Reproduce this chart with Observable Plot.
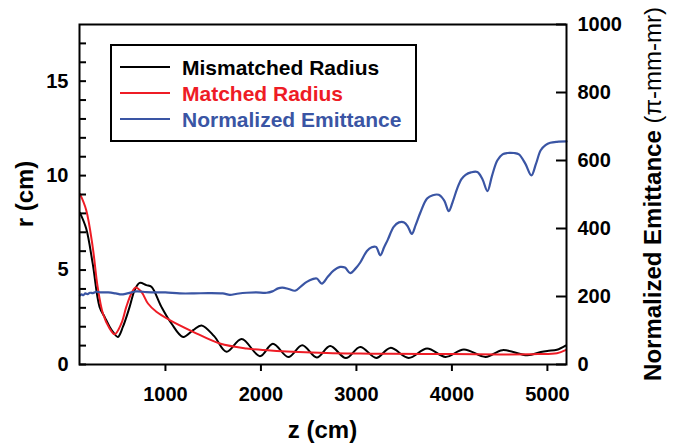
<!DOCTYPE html>
<html>
<head>
<meta charset="utf-8">
<script src="https://cdn.jsdelivr.net/npm/d3@7"></script>
<script src="https://cdn.jsdelivr.net/npm/@observablehq/plot@0.6"></script>
<style>
  body { margin: 0; background: #fff; }
  #chart { position: relative; width: 693px; height: 445px; }
</style>
</head>
<body>
<div id="chart"></div>
<script>
// ---- Data ----
const seriesNames = ["Mismatched Radius", "Matched Radius", "Normalized Emittance"];
const seriesColors = ["#000000", "#ee1c25", "#3a55a4"];

const xTicks = [1000, 2000, 3000, 4000, 5000];
const rTicks = [0, 5, 10, 15];
const rMinorTicks = [1, 2, 3, 4, 6, 7, 8, 9, 11, 12, 13, 14, 16, 17];
const eTicks = [0, 200, 400, 600, 800, 1000];

const xTitle = "z (cm)";
const rTitle = "r (cm)";
const eTitleMain = "Normalized Emittance ";
const eTitleUnit = "(\u03c0-mm-mr)";

// Mismatched radius (cm) vs z (cm)
const mismatchedZ = [105, 170, 238, 310, 363, 415, 450, 502, 555, 625, 678, 730, 800, 853, 958, 1063, 1185, 1290, 1378, 1510, 1640, 1798, 1990, 2125, 2287, 2433, 2585, 2725, 2890, 3040, 3208, 3355, 3547, 3740, 3933, 4125, 4353, 4528, 4790, 4930, 5000, 5100, 5190];
const mismatchedR = [8.03, 7.2, 5.35, 3.05, 2.52, 2.0, 1.73, 1.46, 2.0, 3.05, 3.94, 4.32, 4.2, 4.11, 3.05, 2.17, 1.46, 1.82, 2.07, 1.5, 0.67, 1.35, 0.44, 1.1, 0.40, 1.02, 0.37, 0.98, 0.34, 0.93, 0.35, 0.88, 0.35, 0.85, 0.40, 0.80, 0.40, 0.76, 0.49, 0.66, 0.72, 0.78, 1.0];

// Matched radius (cm) vs z (cm)
const matchedZ = [105, 170, 238, 290, 345, 415, 468, 538, 590, 643, 688, 748, 817, 905, 1045, 1290, 1570, 1850, 2165, 2690, 3040, 3355, 4000, 4500, 4900, 5100, 5190];
const matchedR = [9.03, 8.18, 6.23, 4.11, 2.7, 1.91, 1.6, 2.17, 3.05, 3.76, 4.08, 3.85, 3.23, 2.79, 2.35, 1.73, 1.11, 0.85, 0.72, 0.61, 0.58, 0.57, 0.55, 0.53, 0.55, 0.6, 0.76];

// Normalized emittance (pi-mm-mr) vs z (cm)
const emittanceZ = [105, 120, 140, 160, 185, 210, 240, 275, 320, 400, 480, 538, 600, 696, 800, 900, 1000, 1150, 1300, 1450, 1600, 1675, 1750, 1850, 1950, 2060, 2120, 2180, 2225, 2290, 2358, 2420, 2480, 2540, 2585, 2638, 2700, 2760, 2830, 2880, 2935, 2990, 3040, 3110, 3160, 3205, 3250, 3290, 3330, 3390, 3445, 3500, 3540, 3580, 3620, 3670, 3740, 3800, 3862, 3920, 3967, 4010, 4056, 4100, 4143, 4200, 4266, 4320, 4372, 4420, 4475, 4530, 4580, 4650, 4702, 4770, 4832, 4880, 4930, 4980, 5030, 5100, 5200];
const emittanceE = [203, 206, 204, 209, 207, 211, 210, 214, 212, 212, 209, 206, 209, 215, 213, 212, 212, 209, 209, 210, 209, 205, 208, 211, 212, 211, 215, 224, 226, 222, 217, 230, 243, 251, 253, 238, 258, 276, 287, 285, 269, 282, 300, 334, 345, 346, 321, 345, 368, 405, 418, 418, 405, 384, 410, 447, 488, 498, 499, 482, 451, 480, 518, 545, 558, 565, 566, 545, 510, 555, 600, 618, 622, 622, 618, 590, 556, 590, 630, 645, 652, 655, 656];

// ---- Build tables ----
const rMax = 18, eMax = 1000, k = rMax / eMax;
const mismatched = mismatchedZ.map((z, i) => ({z, v: mismatchedR[i]}));
const matched = matchedZ.map((z, i) => ({z, v: matchedR[i]}));
const emittance = emittanceZ.map((z, i) => ({z, v: emittanceE[i]}));

const W = 693, H = 445;
const mL = 79, mR = 127, mT = 24, mB = 81;
const plotW = W - mL - mR, plotH = H - mT - mB;

const chart = Plot.plot({
  width: W,
  height: H,
  marginLeft: mL,
  marginRight: mR,
  marginTop: mT,
  marginBottom: mB,
  style: {fontFamily: "'Liberation Sans', Arial, sans-serif", fontSize: "20px", fontWeight: "bold", color: "black", background: "white"},
  x: {domain: [100, 5200], label: null},
  y: {domain: [0, rMax], label: null},
  marks: [
    Plot.line(mismatched, {x: "z", y: "v", stroke: seriesColors[0], strokeWidth: 2, curve: "catmull-rom"}),
    Plot.line(matched, {x: "z", y: "v", stroke: seriesColors[1], strokeWidth: 2, curve: "catmull-rom"}),
    Plot.line(emittance, {x: "z", y: d => d.v * k, stroke: seriesColors[2], strokeWidth: 2.2, curve: "catmull-rom"}),
    // tick marks: x outward, left inward, right inward
    Plot.tickX(xTicks, {x: d => d, insetTop: plotH, insetBottom: -7, stroke: "black", strokeWidth: 2}),
    Plot.tickY(rTicks.concat(rMinorTicks), {y: d => d, insetRight: plotW - 7, stroke: "black", strokeWidth: 2}),
    Plot.tickY(eTicks, {y: d => d * k, insetLeft: plotW - 10, stroke: "black", strokeWidth: 2}),
    // tick labels
    Plot.axisX(xTicks, {anchor: "bottom", tickSize: 0, tickPadding: 22, tickFormat: d => String(d), label: null, fontSize: 20, fontWeight: "bold"}),
    Plot.axisY(rTicks, {anchor: "left", tickSize: 0, tickPadding: 11, tickFormat: d => String(d), label: null, fontSize: 20, fontWeight: "bold"}),
    Plot.axisY(eTicks, {anchor: "right", y: d => d * k, tickSize: 0, tickPadding: 11, tickFormat: d => String(d), label: null, fontSize: 20, fontWeight: "bold"}),
    Plot.frame({stroke: "black", strokeWidth: 2})
  ]
});

document.getElementById("chart").appendChild(chart);

// ---- Titles and legend ----
const svg = d3.select(chart);
const font = "'Liberation Sans', Arial, sans-serif";

svg.append("text")
  .attr("x", (mL + (W - mR)) / 2).attr("y", 438)
  .attr("text-anchor", "middle")
  .style("font-family", font).style("font-size", "24px").style("font-weight", "bold")
  .attr("fill", "black")
  .text(xTitle);

svg.append("text")
  .attr("transform", `translate(33,${(mT + (H - mB)) / 2}) rotate(-90)`)
  .attr("text-anchor", "middle")
  .style("font-family", font).style("font-size", "24px").style("font-weight", "bold")
  .attr("fill", "black")
  .text(rTitle);

const et = svg.append("text")
  .attr("transform", `translate(661,${(mT + (H - mB)) / 2}) rotate(-90)`)
  .attr("text-anchor", "middle")
  .style("font-family", font).style("font-size", "24px")
  .attr("fill", "black");
et.append("tspan").style("font-weight", "bold").text(eTitleMain);
et.append("tspan").style("font-weight", "normal").text(eTitleUnit);

// Legend box
const lg = svg.append("g");
lg.append("rect")
  .attr("x", 111).attr("y", 45).attr("width", 305).attr("height", 96)
  .attr("fill", "white").attr("stroke", "black").attr("stroke-width", 2);
seriesNames.forEach((name, i) => {
  const yy = 67 + i * 26;
  lg.append("line")
    .attr("x1", 120).attr("x2", 170).attr("y1", yy).attr("y2", yy)
    .attr("stroke", seriesColors[i]).attr("stroke-width", 2);
  lg.append("text")
    .attr("x", 182).attr("y", yy + 8)
    .attr("text-anchor", "start")
    .style("font-family", font).style("font-size", "21px").style("font-weight", "bold")
    .attr("fill", seriesColors[i])
    .text(name);
});
</script>
</body>
</html>
